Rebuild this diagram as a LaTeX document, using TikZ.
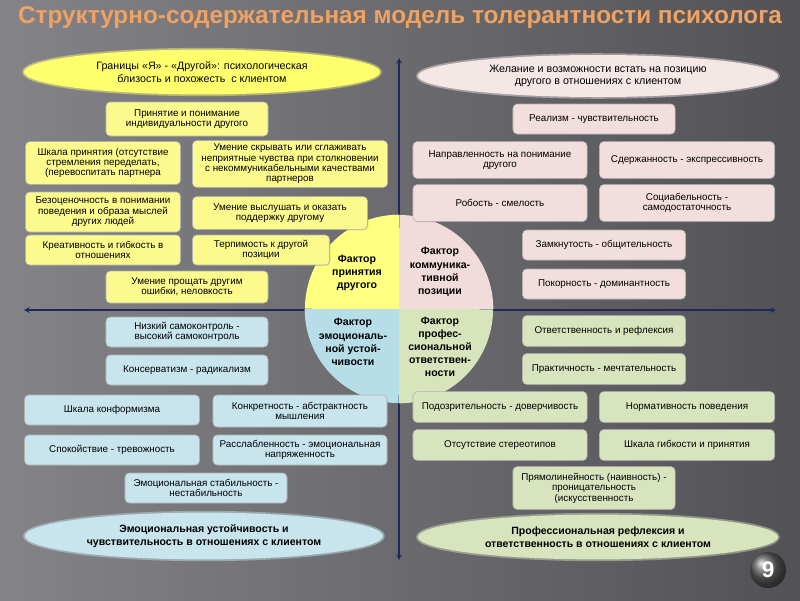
\documentclass[tikz,border=0pt]{standalone}
\usepackage{fontspec}
\setmainfont{Liberation Sans}
\usepackage{tikz}
\usetikzlibrary{positioning, arrows, shapes.geometric, shadows}
\definecolor{bgl}{RGB}{132,132,136}
\definecolor{bgr}{RGB}{82,82,86}
\definecolor{titleorange}{RGB}{240,162,98}
\definecolor{axisblue}{RGB}{30,40,90}
\definecolor{byellow}{RGB}{252,250,140}
\definecolor{bpink}{RGB}{242,222,220}
\definecolor{bblue}{RGB}{200,228,236}
\definecolor{bgreen}{RGB}{216,228,190}
\definecolor{oyellow}{RGB}{255,255,110}
\definecolor{opink}{RGB}{244,232,230}
\definecolor{cyellow}{RGB}{255,255,128}
\definecolor{cpink}{RGB}{242,220,219}
\definecolor{cblue}{RGB}{183,222,232}
\definecolor{cgreen}{RGB}{215,228,188}
\tikzstyle{item} = [rectangle, rounded corners=3pt, align=center, draw=black!30, inner sep=1pt, font=\fontsize{7}{7.4}\selectfont, drop shadow={opacity=0.3, shadow xshift=0.6pt, shadow yshift=-0.6pt}]
\tikzstyle{yitem} = [item, fill=byellow]
\tikzstyle{pitem} = [item, fill=bpink]
\tikzstyle{bitem} = [item, fill=bblue]
\tikzstyle{gitem} = [item, fill=bgreen]
\tikzstyle{oval} = [ellipse, align=center, inner sep=0pt, line width=2.5pt, draw opacity=0.45, font=\fontsize{7.5}{9.5}\selectfont\bfseries]
\tikzstyle{factor} = [align=center, font=\fontsize{7.5}{9.3}\selectfont\bfseries]
\tikzstyle{axis} = [thick, <->, >=stealth, draw=axisblue]

\begin{document}
\begin{tikzpicture}[x=0.025cm, y=-0.025cm]
\useasboundingbox (0,0) rectangle (800,600);
\shade [left color=bgl, right color=bgr] (0,0) rectangle (800,600);

\node (title) [font=\fontsize{17.3}{19}\selectfont\bfseries, text=titleorange] at (400,18) {Структурно-содержательная модель толерантности психолога};

\coordinate (top) at (399,58);
\coordinate (bottom) at (399,560);
\coordinate (left) at (24,310);
\coordinate (right) at (776,310);
\draw [axis] (bottom) -- (top);
\draw [axis] (left) -- (right);

\node (core) [circle, minimum size=4.7cm, inner sep=0pt] at (399,309) {};
\fill [cyellow] (core.center) -- (core.north) arc[start angle=90, end angle=180, radius=2.35cm] -- cycle;
\fill [cpink] (core.center) -- (core.east) arc[start angle=0, end angle=90, radius=2.35cm] -- cycle;
\fill [cblue] (core.center) -- (core.west) arc[start angle=180, end angle=270, radius=2.35cm] -- cycle;
\fill [cgreen] (core.center) -- (core.south) arc[start angle=270, end angle=360, radius=2.35cm] -- cycle;
\node (accept) [factor] at (357,273) {Фактор\\ принятия\\ другого};
\node (commun) [factor] at (440,272) {Фактор\\ коммуника-\\ тивной\\ позиции};
\node (emotion) [factor] at (353,342) {Фактор\\ эмоциональ-\\ ной устой-\\ чивости};
\node (profes) [factor] at (440,347) {Фактор\\ профес-\\ сиональной\\ ответствен-\\ ности};

\node (selfother) [oval, fill=oyellow, draw=oyellow, minimum width=8.9cm, minimum height=1.12cm, font=\fontsize{7.6}{8.8}\selectfont] at (202,72) {Границы «Я» - «Другой»: психологическая\\ близость и похожесть \ с клиентом};
\node (position) [oval, fill=opink, draw=opink, minimum width=9cm, minimum height=1.05cm, font=\fontsize{7.6}{8.8}\selectfont] at (598,76) {Желание и возможности встать на позицию\\ другого в отношениях с клиентом};
\node (stability) [oval, fill=bblue, draw=bblue, minimum width=8.95cm, minimum height=1.17cm] at (204,536) {Эмоциональная устойчивость и\\ чувствительность в отношениях с клиентом};
\node (reflexion) [oval, fill=bgreen, draw=bgreen, minimum width=9cm, minimum height=1.12cm] at (598,537) {Профессиональная рефлексия и\\ ответственность в отношениях с клиентом};

\node (y1) [yitem, minimum width=4.05cm, minimum height=0.85cm] at (187,119) {Принятие и понимание\\ индивидуальности другого};
\node (y2) [yitem, minimum width=3.875cm, minimum height=1.07cm] at (103,163) {Шкала принятия (отсутствие\\ стремления переделать,\\ (перевоспитать партнера};
\node (y3) [yitem, minimum width=4.875cm, minimum height=1.17cm] at (290,164) {Умение скрывать или сглаживать\\ неприятные чувства при столкновении\\ с некоммуникабельными качествами\\ партнеров};
\node (y4) [yitem, minimum width=3.875cm, minimum height=1cm] at (103,212) {Безоценочность в понимании\\ поведения и образа мыслей\\ других людей};
\node (y5) [yitem, minimum width=4.375cm, minimum height=0.82cm] at (280,213) {Умение выслушать и оказать\\ поддержку другому};
\node (y6) [yitem, minimum width=3.875cm, minimum height=0.75cm] at (103,250) {Креативность и гибкость в\\ отношениях};
\node (y7) [yitem, minimum width=3.425cm, minimum height=0.75cm] at (261,250) {Терпимость к другой\\ позиции};
\node (y8) [yitem, minimum width=4.05cm, minimum height=0.8cm] at (187,287) {Умение прощать другим\\ ошибки, неловкость};

\node (b1) [bitem, minimum width=4.05cm, minimum height=0.75cm] at (187,332) {Низкий самоконтроль -\\ высокий самоконтроль};
\node (b2) [bitem, minimum width=4.05cm, minimum height=0.75cm] at (187,370) {Консерватизм - радикализм};
\node (b3) [bitem, minimum width=4.375cm, minimum height=0.75cm] at (112,410) {Шкала конформизма};
\node (b4) [bitem, minimum width=4.35cm, minimum height=0.8cm] at (300,411) {Конкретность - абстрактность\\ мышления};
\node (b5) [bitem, minimum width=4.375cm, minimum height=0.75cm] at (112,450) {Спокойствие - тревожность};
\node (b6) [bitem, minimum width=4.35cm, minimum height=0.75cm] at (300,450) {Расслабленность - эмоциональная\\ напряженность};
\node (b7) [bitem, minimum width=4.05cm, minimum height=0.75cm] at (206,488) {Эмоциональная стабильность -\\ нестабильность};

\node (p1) [pitem, minimum width=4.05cm, minimum height=0.75cm] at (594,119) {Реализм - чувствительность};
\node (p2) [pitem, minimum width=4.35cm, minimum height=0.92cm] at (500,160) {Направленность на понимание\\ другого};
\node (p3) [pitem, minimum width=4.375cm, minimum height=0.92cm] at (687,160) {Сдержанность - экспрессивность};
\node (p4) [pitem, minimum width=4.35cm, minimum height=0.92cm] at (500,203) {Робость - смелость};
\node (p5) [pitem, minimum width=4.375cm, minimum height=0.92cm] at (687,203) {Социабельность -\\ самодостаточность};
\node (p6) [pitem, minimum width=4.075cm, minimum height=0.75cm] at (604,245) {Замкнутость - общительность};
\node (p7) [pitem, minimum width=4.075cm, minimum height=0.75cm] at (604,284) {Покорность - доминантность};

\node (g1) [gitem, minimum width=4.075cm, minimum height=0.77cm] at (604,331) {Ответственность и рефлексия};
\node (g2) [gitem, minimum width=4.075cm, minimum height=0.77cm] at (604,369) {Практичность - мечтательность};
\node (g3) [gitem, minimum width=4.35cm, minimum height=0.77cm] at (500,407) {Подозрительность - доверчивость};
\node (g4) [gitem, minimum width=4.375cm, minimum height=0.77cm] at (687,407) {Нормативность поведения};
\node (g5) [gitem, minimum width=4.35cm, minimum height=0.77cm] at (500,445) {Отсутствие стереотипов};
\node (g6) [gitem, minimum width=4.375cm, minimum height=0.77cm] at (687,445) {Шкала гибкости и принятия};
\node (g7) [gitem, minimum width=4.05cm, minimum height=1.07cm] at (594,488) {Прямолинейность (наивность) -\\ проницательность\\ (искусственность};

\node (page) [circle, ball color=gray!75!black, minimum size=0.9cm, text=white, font=\fontsize{16}{16}\selectfont\bfseries] at (768,570) {9};
\end{tikzpicture}
\end{document}
